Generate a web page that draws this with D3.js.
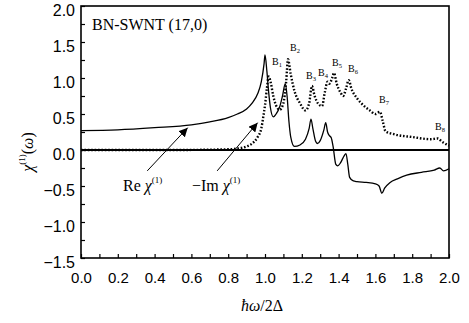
<!DOCTYPE html>
<html>
<head>
<meta charset="utf-8">
<script src="https://cdn.jsdelivr.net/npm/d3@7"></script>
<style>
  body { margin: 0; background: #fff; }
  .tick text { font-family: "Liberation Sans", Arial, sans-serif; fill: #000; }
  .serif { font-family: "Liberation Serif", "Times New Roman", serif; fill: #000; }
</style>
</head>
<body>
<div id="chart"></div>
<script>
// photon energy hw/2Δ
const reX = [0.0, 0.2, 0.4, 0.6, 0.7, 0.8, 0.85, 0.9, 0.93, 0.96, 0.98, 0.995, 1.0, 1.01, 1.02, 1.03, 1.045, 1.06, 1.08, 1.095, 1.11, 1.12, 1.13, 1.14, 1.16, 1.19, 1.22, 1.24, 1.25, 1.26, 1.275, 1.285, 1.3, 1.32, 1.33, 1.34, 1.35, 1.36, 1.37, 1.385, 1.395, 1.41, 1.43, 1.44, 1.45, 1.46, 1.48, 1.5, 1.55, 1.6, 1.62, 1.635, 1.65, 1.68, 1.72, 1.77, 1.85, 1.92, 1.95, 1.97, 2.0];
const reY = [0.27, 0.28, 0.31, 0.35, 0.39, 0.45, 0.5, 0.57, 0.65, 0.78, 0.95, 1.2, 1.32, 1.1, 0.8, 0.58, 0.46, 0.5, 0.6, 0.75, 0.92, 0.75, 0.4, 0.18, 0.05, 0.07, 0.15, 0.3, 0.43, 0.3, 0.12, 0.09, 0.13, 0.28, 0.38, 0.25, 0.2, 0.17, 0.05, -0.2, -0.22, -0.18, -0.08, -0.05, -0.2, -0.38, -0.43, -0.44, -0.45, -0.47, -0.5, -0.6, -0.53, -0.45, -0.4, -0.35, -0.31, -0.28, -0.25, -0.29, -0.26];

const imX = [0.0, 0.5, 0.8, 0.85, 0.9, 0.93, 0.96, 0.98, 0.99, 1.0, 1.01, 1.02, 1.03, 1.045, 1.06, 1.08, 1.1, 1.115, 1.125, 1.14, 1.16, 1.19, 1.22, 1.24, 1.255, 1.27, 1.29, 1.31, 1.325, 1.34, 1.35, 1.365, 1.375, 1.39, 1.41, 1.425, 1.44, 1.455, 1.47, 1.5, 1.535, 1.57, 1.6, 1.625, 1.64, 1.655, 1.7, 1.8, 1.9, 1.94, 1.96, 2.0];
const imY = [0.0, 0.0, 0.01, 0.02, 0.05, 0.09, 0.18, 0.3, 0.45, 0.62, 0.85, 1.02, 0.95, 0.75, 0.62, 0.56, 0.65, 0.95, 1.26, 1.05, 0.82, 0.65, 0.55, 0.65, 0.89, 0.75, 0.64, 0.61, 0.8, 0.95, 0.92, 1.0, 1.07, 0.92, 0.8, 0.75, 0.85, 0.97, 0.85, 0.72, 0.62, 0.55, 0.5, 0.53, 0.4, 0.26, 0.22, 0.18, 0.15, 0.16, 0.12, 0.06];

// peak labels B1..B8 (left edge / baseline in data units)
const peakNames = ["1", "2", "3", "4", "5", "6", "7", "8"];
const peakX = [1.038, 1.136, 1.223, 1.288, 1.364, 1.451, 1.62, 1.924];
const peakY = [1.18, 1.375, 0.986, 1.03, 1.17, 1.08, 0.65, 0.28];

const xTicks = d3.range(0, 21).map(i => i / 10);
const yTicks = d3.range(-6, 9).map(i => i / 4);

const width = 469, height = 323;
const margin = { top: 6, right: 20, bottom: 65, left: 81 };

const svg = d3.select("#chart").append("svg")
    .attr("width", width)
    .attr("height", height);

const x = d3.scaleLinear().domain([0, 2]).range([margin.left, width - margin.right]);
const y = d3.scaleLinear().domain([-1.5, 2]).range([height - margin.bottom, margin.top]);

// Axes (ticks inward)
svg.append("g")
    .attr("transform", `translate(0,${height - margin.bottom})`)
    .call(d3.axisBottom(x).tickValues(xTicks).tickSizeInner(-4).tickSizeOuter(0).tickPadding(14)
        .tickFormat(d => Math.round(d * 10) % 2 === 0 ? d3.format(".1f")(d) : ""))
    .call(g => g.select(".domain").remove())
    .call(g => g.selectAll(".tick text").attr("font-size", 15).attr("dy", "0.72em"))
    .call(g => g.selectAll(".tick line").attr("stroke-width", 1.2));

svg.append("g")
    .attr("transform", `translate(${margin.left},0)`)
    .call(d3.axisLeft(y).tickValues(yTicks).tickSizeInner(-4).tickSizeOuter(0).tickPadding(6)
        .tickFormat(d => Math.round(d * 4) % 2 === 0 ? d3.format(".1f")(d) : ""))
    .call(g => g.select(".domain").remove())
    .call(g => g.selectAll(".tick text").attr("font-size", 16).attr("y", 4))
    .call(g => g.selectAll(".tick line").attr("stroke-width", 1.2));

// frame
svg.append("rect")
    .attr("x", x(0)).attr("y", y(2))
    .attr("width", x(2) - x(0)).attr("height", y(-1.5) - y(2))
    .attr("fill", "none").attr("stroke", "#000").attr("stroke-width", 1.6);

// zero line
svg.append("line")
    .attr("x1", x(0)).attr("x2", x(2))
    .attr("y1", y(0)).attr("y2", y(0))
    .attr("stroke", "#000").attr("stroke-width", 2);

const line = d3.line().x(d => x(d[0])).y(d => y(d[1])).curve(d3.curveMonotoneX);

svg.append("path")
    .datum(imX.map((v, i) => [v, imY[i]]))
    .attr("d", line)
    .attr("fill", "none").attr("stroke", "#000")
    .attr("stroke-width", 2.4).attr("stroke-dasharray", "1.6,1.8");

svg.append("path")
    .datum(reX.map((v, i) => [v, reY[i]]))
    .attr("d", line)
    .attr("fill", "none").attr("stroke", "#000").attr("stroke-width", 1.3);

// peak labels
peakNames.forEach((n, i) => {
    const t = svg.append("text").attr("class", "serif")
        .attr("x", x(peakX[i])).attr("y", y(peakY[i]))
        .attr("font-size", 10);
    t.append("tspan").text("B");
    t.append("tspan").attr("font-size", 6.5).attr("dy", 2).text(n);
});

svg.append("text").attr("class", "serif")
    .attr("x", 92).attr("y", 30).attr("font-size", 16)
    .text("BN-SWNT (17,0)");

// arrows
svg.append("defs").append("marker")
    .attr("id", "arrow").attr("viewBox", "0 0 10 10")
    .attr("refX", 10).attr("refY", 5)
    .attr("markerWidth", 9).attr("markerHeight", 9)
    .attr("markerUnits", "userSpaceOnUse")
    .attr("orient", "auto")
    .append("path").attr("d", "M0,0 L10,5 L0,10 Z").attr("fill", "#000");

[[0.36, -0.29, 0.58, 0.31], [0.74, -0.29, 0.96, 0.38]].forEach(a => {
    svg.append("line")
        .attr("x1", x(a[0])).attr("y1", y(a[1]))
        .attr("x2", x(a[2])).attr("y2", y(a[3]))
        .attr("stroke", "#000").attr("stroke-width", 1)
        .attr("marker-end", "url(#arrow)");
});

const re = svg.append("text").attr("class", "serif").attr("x", 123).attr("y", 191).attr("font-size", 16);
re.append("tspan").text("Re ");
re.append("tspan").attr("font-style", "italic").text("χ");
re.append("tspan").attr("font-size", 9).attr("dy", -8).text("(1)");

const im = svg.append("text").attr("class", "serif").attr("x", 192).attr("y", 191).attr("font-size", 16);
im.append("tspan").text("−Im ");
im.append("tspan").attr("font-style", "italic").text("χ");
im.append("tspan").attr("font-size", 9).attr("dy", -8).text("(1)");

// axis titles
const yl = svg.append("text").attr("class", "serif")
    .attr("transform", "translate(33,152) rotate(-90)")
    .attr("text-anchor", "middle").attr("font-size", 16);
yl.append("tspan").attr("font-style", "italic").text("χ");
yl.append("tspan").attr("font-size", 9).attr("dy", -8).text("(1)");
yl.append("tspan").attr("dy", 8).text("(");
yl.append("tspan").attr("font-style", "italic").text("ω");
yl.append("tspan").text(")");

const xl = svg.append("text").attr("class", "serif")
    .attr("x", 262).attr("y", 311).attr("text-anchor", "middle").attr("font-size", 16)
    .attr("font-style", "italic");
xl.append("tspan").text("ħω");
xl.append("tspan").attr("font-style", "normal").text("/2Δ");
</script>
</body>
</html>
